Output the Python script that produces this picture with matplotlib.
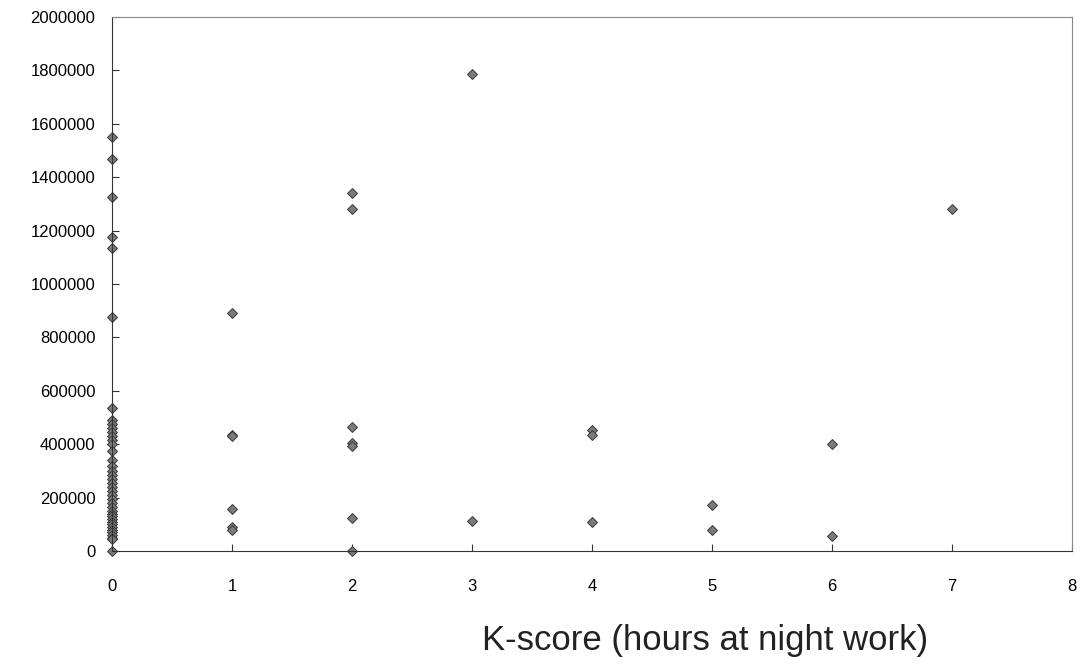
import matplotlib
matplotlib.use('Agg')
import matplotlib.pyplot as plt

plt.rcParams['font.family'] = ['Liberation Sans', 'DejaVu Sans']

# K-score groups and income values
k0 = [1550000, 1470000, 1325000, 1175000, 1135000, 875000, 535000,
      490000, 475000, 460000, 445000, 430000, 415000, 400000, 375000,
      340000, 320000, 300000, 285000, 270000, 255000, 240000, 225000,
      210000, 195000, 180000, 165000, 150000, 140000, 130000, 120000,
      110000, 100000, 90000, 80000, 70000, 60000, 50000, 45000, 0]
k1 = [892000, 435000, 430000, 157000, 90000, 80000]
k2 = [1341000, 1281000, 463000, 404000, 392000, 122000, 0]
k3 = [1787000, 112000]
k4 = [453000, 434000, 109000]
k5 = [172000, 79000]
k6 = [401000, 56000]
k7 = [1281000]

groups = [k0, k1, k2, k3, k4, k5, k6, k7]

fig = plt.figure(figsize=(10.82, 6.72), dpi=100)
ax = fig.add_axes([0.1035, 0.18, 0.8873, 0.7947])

for k, vals in enumerate(groups):
    ax.plot([k] * len(vals), vals, linestyle='none', marker='D', markersize=5,
            markerfacecolor='#7a7a7a', markeredgecolor='#3a3a3a', markeredgewidth=0.7,
            clip_on=False)

ax.set_xlim(0, 8)
ax.set_ylim(0, 2000000)
ax.set_xticks(range(9))
ax.set_yticks(range(0, 2000001, 200000))
ax.set_yticklabels([str(v) for v in range(0, 2000001, 200000)])
ax.tick_params(axis='both', direction='in', length=5, labelsize=12, color='#333333')
ax.tick_params(axis='x', pad=20)
ax.tick_params(axis='y', pad=12)

ax.spines['left'].set_color('#333333')
ax.spines['bottom'].set_color('#333333')
ax.spines['top'].set_color('#888888')
ax.spines['right'].set_color('#888888')

fig.text(0.652, 0.033, 'K-score (hours at night work)', fontsize=25, ha='center', va='baseline',
         color='#222222')

fig.savefig('out.png', dpi=100)
